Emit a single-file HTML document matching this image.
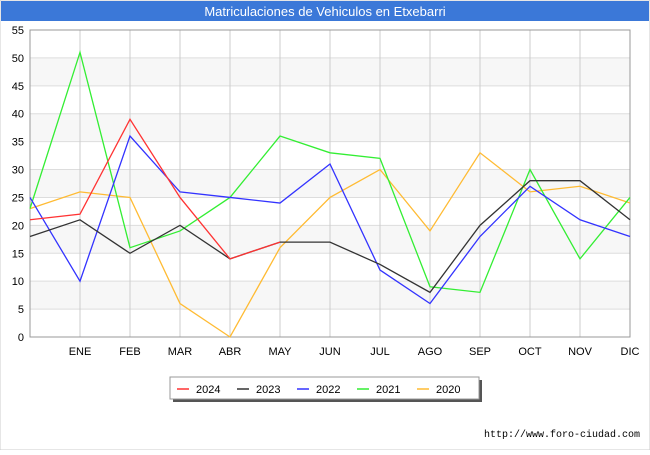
<!DOCTYPE html>
<html><head><meta charset="utf-8"><style>
body{margin:0;background:#fff;font-family:"Liberation Sans",sans-serif}
#wrap{position:relative;width:650px;height:450px;background:#fff}
</style></head><body>
<div id="wrap">
<svg id="svg" width="650" height="450" xmlns="http://www.w3.org/2000/svg">
<rect x="0" y="0" width="650" height="450" fill="#fff" stroke="#ccc"/>
<rect x="1" y="1" width="648" height="20" fill="#3b78d8"/>
<text x="325" y="16" text-anchor="middle" font-size="13" fill="#fff" font-family="Liberation Sans">Matriculaciones de Vehiculos en Etxebarri</text>
<g id="plot"></g>
<text x="640" y="437" text-anchor="end" font-size="10" fill="#000" font-family="Liberation Mono">http://www.foro-ciudad.com</text>
</svg>
</div>
<script>
const categories=["","ENE","FEB","MAR","ABR","MAY","JUN","JUL","AGO","SEP","OCT","NOV","DIC"];
const yTicks=[0,5,10,15,20,25,30,35,40,45,50,55];
const seriesNames=["2024","2023","2022","2021","2020"];
const seriesColors=["#ff3333","#333333","#3333ff","#33ee33","#ffbb33"];
const s2024=[21,22,39,25,14,17];
const s2023=[18,21,15,20,14,17,17,13,8,20,28,28,21];
const s2022=[25,10,36,26,25,24,31,12,6,18,27,21,18];
const s2021=[23,51,16,19,25,36,33,32,9,8,30,14,25];
const s2020=[23,26,25,6,0,16,25,30,19,33,26,27,24];
const seriesData=[s2024,s2023,s2022,s2021,s2020];
const L=30,R=630,T=30,B=337,yMax=55;
const NS="http://www.w3.org/2000/svg";
const g=document.getElementById('plot');
function xs(i){return L+i*(R-L)/(categories.length-1);}
function ys(v){return B-v*(B-T)/yMax;}
function mk(t,a){const e=document.createElementNS(NS,t);for(const k in a)e.setAttribute(k,a[k]);g.appendChild(e);return e;}
for(let i=0;i<yTicks.length-1;i++){
 const r=mk('rect',{x:L,y:ys(yTicks[i+1]),width:R-L,height:ys(yTicks[i])-ys(yTicks[i+1]),fill:i%2?'#f7f7f7':'#ffffff'});
 
 
}
yTicks.forEach(v=>{
 const l=mk('line',{x1:L,x2:R,y1:ys(v),y2:ys(v),stroke:'#ddd'});
 
 
 const t=mk('text',{x:L-6,y:ys(v)+4,'text-anchor':'end','font-size':11,fill:'#000'});
 t.textContent=v;
 
 
});
categories.forEach((c,i)=>{
 const l=mk('line',{x1:xs(i),x2:xs(i),y1:T,y2:B,stroke:'#ccc'});
 
 
 const t=mk('text',{x:xs(i),y:B+18,'text-anchor':'middle','font-size':11,fill:'#000'});
 t.textContent=c;
 
 
});
const ax=mk('rect',{x:L,y:T,width:R-L,height:B-T,fill:'none',stroke:'#999'});


for(let s=seriesData.length-1;s>=0;s--){
 const p=mk('polyline',{points:seriesData[s].map((v,i)=>xs(i)+','+ys(v)).join(' '),fill:'none',stroke:seriesColors[s],'stroke-width':1.3});
 
 
}
const lb=mk('rect',{x:173,y:380,width:309,height:22,fill:'#555'});


const lg=mk('rect',{x:170,y:377,width:309,height:22,fill:'#fff',stroke:'#999'});


seriesNames.forEach((n,i)=>{
 const x=177+i*60;
 const l=mk('line',{x1:x,x2:x+12,y1:389,y2:389,stroke:seriesColors[i],'stroke-width':1.5});
 
 
 const t=mk('text',{x:x+19,y:393,'font-size':11,fill:'#000'});
 t.textContent=n;
 
 
});
</script>
</body></html>
